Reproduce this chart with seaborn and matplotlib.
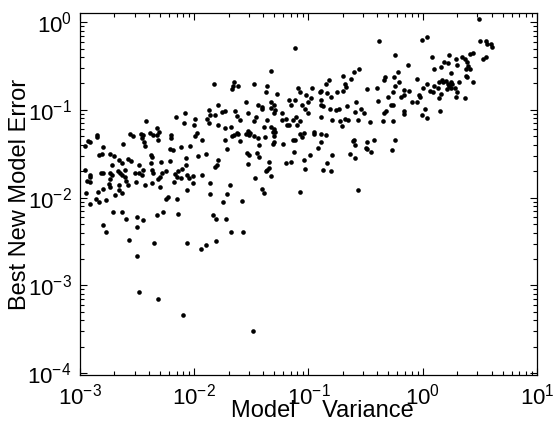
import numpy as np
import matplotlib
matplotlib.use("Agg")
import matplotlib.pyplot as plt
import seaborn as sns
from matplotlib.ticker import LogLocator, NullFormatter

# log10 of model variance (grouped by area of the plot)
log_variance = [
    -2.42, -2.16, -2.08, -2.09,
    # upper middle
    -1.12, -1.33, -1.83, -1.65, -1.66, -1.62, -1.67, -1.48, -1.36, -1.37,
    -1.28, -1.09, -1.07, -1.02, -1.55, -1.79, -1.44, -1.41, -1.33, -1.30,
    -1.33, -1.29, -1.30, -1.17, -1.12, -1.15, -1.06, -1.03, -1.87, -1.86,
    -1.82, -1.76, -1.73, -1.64, -1.63, -1.53, -1.46, -1.41, -1.23, -1.20,
    -1.11, -1.00, -1.99, -1.89, -1.60, -1.48, -1.36, -1.23, -1.14, -1.07,
    # upper right-middle
    -0.38, -0.01, 0.04, -0.24, -0.13, -0.56, -0.60, -0.63, -0.70, -0.82,
    -0.85, -0.68, -0.67, -0.97, -0.89, -0.90, -0.84, -0.80, -0.75, -0.70,
    -0.49, -0.40, -0.33, -0.34, -0.25, -0.22, -0.24, -0.21, -0.26, -0.30,
    -0.19, -0.16, -0.12, -0.16, -0.05, 0.00, 0.04, -0.03, -0.02, -0.09,
    -0.05, 0.02, -0.98, -1.00, -0.89, -0.89, -0.87, -0.81, -0.76, -0.73,
    -0.66, -0.58, -0.54, -0.51, -0.59, -0.39, -0.28, -0.26, -0.32, -0.34,
    -0.16, -0.16, -0.89, -0.79, -0.72, -0.68, -0.65, -0.57, -0.46, -0.35,
    -0.26, -0.01,
    # top right
    0.49, 0.50, 0.55, 0.56, 0.60, 0.61, 0.08, 0.23, 0.29, 0.34,
    0.37, 0.41, 0.44, 0.53, 0.55, 0.19, 0.22, 0.16, 0.30, 0.39,
    0.40, 0.10, 0.38, 0.41, 0.38, 0.39, 0.25, 0.44, 0.17, 0.18,
    0.14, 0.20, 0.22, 0.23, 0.25, 0.26, 0.28, 0.21, 0.32, 0.25,
    0.10, 0.06, 0.09, 0.13, 0.16, 0.14, 0.30, 0.29, 0.37, 0.15, 0.04,
    # left
    -2.85, -2.85, -2.93, -2.91, -2.96, -2.56, -2.54, -2.47, -2.45, -2.46,
    -2.39, -2.33, -2.31, -2.33, -2.32, -2.36, -2.20, -2.20, -2.62, -2.43,
    -2.44, -2.21, -2.19, -2.12, -2.80, -2.83, -2.81, -2.74, -2.70, -2.72,
    -2.66, -2.63, -2.58, -2.55, -2.38, -2.37, -2.38, -2.29, -2.21, -2.48,
    -2.96, -2.91, -2.91, -2.94, -2.91, -2.82, -2.80, -2.74, -2.72, -2.67,
    -2.65, -2.63, -2.61, -2.61, -2.60, -2.74, -2.75, -2.74, -2.80, -2.84,
    -2.66, -2.66, -2.63, -2.58, -2.52, -2.48, -2.46, -2.45, -2.51, -2.37,
    -2.36, -2.43, -2.37, -2.32, -2.30, -2.28, -2.25, -2.17, -2.15, -2.14,
    -2.11, -2.07, -2.18, -2.12, -2.06, -2.95, -2.86, -2.83, -2.91, -2.77,
    -2.69, -2.30, -2.25, -2.23, -2.15, -2.71, -2.63, -2.60, -2.50, -2.45,
    -2.33, -2.27, -2.14, -2.50, -2.80, -2.77,
    # middle
    -2.00, -1.87, -1.79, -1.73, -1.68, -1.39, -1.33, -1.30, -1.29, -1.19,
    -1.17, -1.10, -1.98, -1.99, -1.93, -2.04, -1.67, -1.65, -1.63, -1.62,
    -1.73, -1.55, -1.53, -1.51, -1.52, -1.48, -1.44, -1.38, -1.43, -1.31,
    -1.30, -1.31, -1.30, -1.60, -1.22, -1.14, -1.12, -1.07, -1.04, -1.06,
    -1.71, -2.07, -1.97, -1.90, -1.79, -1.80, -1.82, -1.54, -1.52, -1.53,
    -1.45, -1.43, -1.35, -1.36, -1.37, -1.35, -1.33, -1.47, -1.13, -1.20,
    -1.15, -1.04, -1.03, -0.99, -2.06, -2.05, -2.01, -2.01, -1.93, -1.86,
    -1.86, -1.69, -1.71, -1.75, -1.58, -1.41, -1.39, -1.07, -1.84, -1.81,
    -1.72, -1.68, -1.57,
    # right-middle, lower
    -0.71, -0.95, -0.95, -0.89, -0.85, -0.89, -0.92, -0.79, -0.84, -0.87,
    -0.80, -0.61, -0.59, -0.60, -0.64, -0.59, -0.49, -0.50, -0.49, -0.45,
    -0.43, -0.27, -0.24, -0.57,
    # bottom outliers
    -2.57, -2.35, -2.50, -2.06, -1.94, -1.90, -1.81, -2.48, -2.32, -2.10,
    -1.49,
]

# log10 of best new model error, same order
log_error = [
    -1.13, -1.08, -1.03, -1.15,
    # upper middle
    -0.30, -0.56, -0.70, -0.68, -0.73, -0.73, -0.76, -0.71, -0.73, -0.80,
    -0.82, -0.75, -0.80, -0.83, -0.91, -0.94, -0.94, -0.97, -0.91, -0.94,
    -0.98, -1.00, -1.04, -0.89, -0.89, -0.94, -0.94, -0.99, -1.00, -1.06,
    -1.06, -1.02, -1.01, -1.01, -1.07, -1.03, -1.08, -0.99, -1.03, -1.10,
    -1.08, -1.03, -1.10, -1.10, -1.11, -1.13, -1.11, -1.11, -1.11, -1.13,
    # upper right-middle
    -0.21, -0.20, -0.17, -0.37, -0.49, -0.53, -0.57, -0.65, -0.61, -0.66,
    -0.70, -0.71, -0.74, -0.75, -0.78, -0.80, -0.81, -0.85, -0.80, -0.78,
    -0.76, -0.75, -0.63, -0.66, -0.63, -0.57, -0.73, -0.68, -0.80, -0.85,
    -0.85, -0.83, -0.78, -0.77, -0.65, -0.75, -0.71, -0.83, -0.85, -0.91,
    -0.91, -0.99, -0.86, -0.91, -0.89, -0.94, -0.96, -0.99, -1.00, -0.99,
    -0.96, -0.91, -0.99, -1.03, -1.02, -0.90, -0.94, -0.94, -1.01, -1.04,
    -1.01, -1.05, -1.08, -1.11, -1.13, -1.10, -1.11, -1.11, -1.14, -1.13,
    -1.13, -1.06,
    # top right
    0.04, -0.21, -0.22, -0.25, -0.25, -0.28, -0.40, -0.38, -0.42, -0.40,
    -0.42, -0.36, -0.35, -0.42, -0.40, -0.46, -0.47, -0.51, -0.49, -0.46,
    -0.50, -0.54, -0.54, -0.54, -0.61, -0.63, -0.58, -0.68, -0.66, -0.68,
    -0.68, -0.67, -0.71, -0.73, -0.75, -0.71, -0.75, -0.76, -0.68, -0.68,
    -0.73, -0.79, -0.80, -0.75, -0.82, -0.86, -0.80, -0.85, -0.87, -1.01, -1.09,
    # left
    -1.29, -1.31, -1.35, -1.37, -1.41, -1.27, -1.30, -1.27, -1.29, -1.32,
    -1.26, -1.21, -1.25, -1.29, -1.34, -1.29, -1.29, -1.32, -1.39, -1.41,
    -1.37, -1.45, -1.46, -1.42, -1.42, -1.51, -1.50, -1.50, -1.53, -1.63,
    -1.57, -1.61, -1.56, -1.58, -1.51, -1.54, -1.60, -1.59, -1.58, -1.63,
    -1.68, -1.74, -1.77, -1.81, -1.82, -1.72, -1.72, -1.72, -1.74, -1.70,
    -1.72, -1.74, -1.69, -1.77, -1.81, -1.79, -1.84, -1.88, -1.90, -1.93,
    -1.86, -1.91, -1.95, -1.86, -1.72, -1.72, -1.74, -1.68, -1.82, -1.69,
    -1.72, -1.86, -1.83, -1.79, -1.76, -1.72, -1.70, -1.73, -1.76, -1.70,
    -1.67, -1.63, -1.82, -1.78, -1.91, -1.95, -2.01, -2.05, -2.07, -2.03,
    -1.97, -1.88, -2.01, -1.99, -2.01, -2.16, -2.16, -2.24, -2.22, -2.26,
    -2.20, -2.16, -2.19, -2.33, -2.31, -2.39,
    # middle
    -1.17, -1.15, -1.17, -1.21, -1.19, -1.19, -1.20, -1.22, -1.25, -1.17,
    -1.17, -1.17, -1.26, -1.30, -1.34, -1.41, -1.30, -1.29, -1.26, -1.27,
    -1.34, -1.27, -1.24, -1.26, -1.29, -1.30, -1.32, -1.31, -1.40, -1.25,
    -1.30, -1.39, -1.37, -1.36, -1.39, -1.34, -1.34, -1.27, -1.26, -1.31,
    -1.45, -1.55, -1.53, -1.50, -1.57, -1.63, -1.65, -1.49, -1.51, -1.62,
    -1.49, -1.54, -1.59, -1.69, -1.70, -1.66, -1.75, -1.78, -1.48, -1.61,
    -1.59, -1.57, -1.67, -1.51, -1.74, -1.78, -1.75, -1.83, -1.74, -1.83,
    -1.96, -1.86, -1.96, -2.05, -2.04, -1.90, -1.95, -1.93, -2.20, -2.24,
    -2.24, -2.39, -2.39,
    # right-middle, lower
    -1.18, -1.25, -1.27, -1.27, -1.29, -1.37, -1.43, -1.51, -1.61, -1.69,
    -1.70, -1.35, -1.40, -1.34, -1.50, -1.55, -1.37, -1.43, -1.45, -1.48,
    -1.34, -1.46, -1.34, -1.91,
    # bottom outliers
    -2.48, -2.52, -2.67, -2.52, -2.59, -2.54, -2.49, -3.07, -3.15, -3.34,
    -3.52,
]

variance = 10 ** np.array(log_variance)
error = 10 ** np.array(log_error)

sns.set_style("ticks")
plt.rcParams['font.family'] = ['Liberation Sans', 'DejaVu Sans']
plt.rcParams['axes.unicode_minus'] = False
plt.rcParams['mathtext.default'] = 'regular'

fig = plt.figure(figsize=(5.54, 4.21), dpi=100)
ax = fig.add_axes([0.1444, 0.1093, 0.8249, 0.8591])

sns.scatterplot(x=variance, y=error, ax=ax, s=11, color='black', linewidth=0)

ax.set_xscale('log')
ax.set_yscale('log')
ax.set_xlim(1e-3, 1e1)
ax.set_ylim(10 ** -4.02, 10 ** 0.1)

for axis in (ax.xaxis, ax.yaxis):
    axis.set_major_locator(LogLocator(base=10, numticks=10))
    axis.set_minor_locator(LogLocator(base=10, subs=np.arange(2, 10), numticks=20))
    axis.set_minor_formatter(NullFormatter())

ax.tick_params(which='both', direction='in', top=True, right=True,
               labelsize=16, colors='black', width=0.8)
ax.tick_params(which='major', length=5, pad=6)
ax.tick_params(which='minor', length=3)
for sp in ax.spines.values():
    sp.set_color('black')
    sp.set_linewidth(0.9)

# the x label sits low, partly beside the 10^-1 tick label, as in the source figure
ax.set_xlabel('Model    Variance', fontsize=17, color='black')
ax.set_ylabel('Best New Model Error', fontsize=17, color='black')
ax.xaxis.set_label_coords(0.53, -0.07)
ax.yaxis.set_label_coords(-0.108, 0.5)

fig.savefig('out.png', dpi=100)
